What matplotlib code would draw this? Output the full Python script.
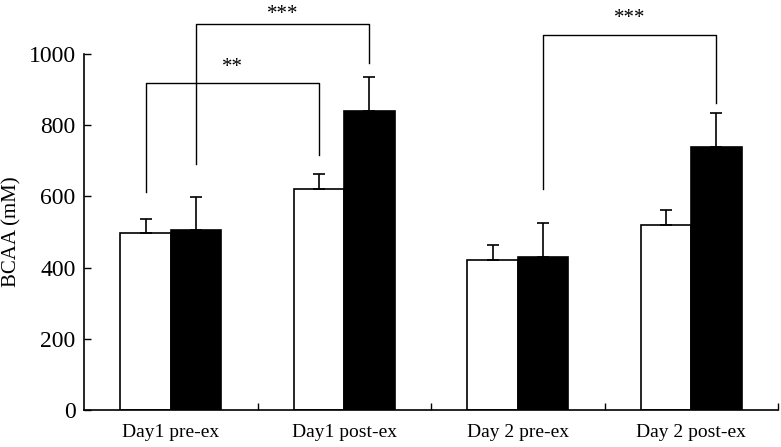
import numpy as np
import matplotlib.pyplot as plt

plt.rcParams['font.family'] = ['Liberation Serif', 'DejaVu Serif']

categories = ['Day1 pre-ex', 'Day1 post-ex', 'Day 2 pre-ex', 'Day 2 post-ex']
white_vals = [497, 621, 421, 520]
white_err = [40, 42, 42, 42]
black_vals = [506, 840, 430, 739]
black_err = [93, 95, 96, 95]

# significance brackets: (x_left, y_left_bottom, x_right, y_right_bottom, y_top, label, label_y)
brackets = [
    (-0.145, 612, 0.855, 716, 918, '**', 962),
    (0.145, 691, 1.145, 975, 1084, '***', 1112),
    (2.145, 621, 3.145, 862, 1053, '***', 1100),
]

fig = plt.figure(figsize=(7.81, 4.47), dpi=100)
ax = fig.add_axes([0.1076, 0.0828, 0.8886, 0.7964])

x = np.arange(len(categories))
w = 0.29
ax.bar(x - w/2, white_vals, w, color='white', edgecolor='black', linewidth=1.2,
       yerr=[[0]*4, white_err], error_kw=dict(ecolor='black', elinewidth=1.2, capsize=4, capthick=1.2))
ax.bar(x + w/2, black_vals, w, color='black', edgecolor='black', linewidth=1.2,
       yerr=[[0]*4, black_err], error_kw=dict(ecolor='black', elinewidth=1.2, capsize=4, capthick=1.2))

for xl, yl, xr, yr, yt, lab, ly in brackets:
    ax.plot([xl, xl, xr, xr], [yl, yt, yt, yr], color='black', lw=1, clip_on=False)
    ax.text((xl + xr)/2, ly, lab, ha='center', va='center', fontsize=15, clip_on=False)

ax.set_xlim(-0.5, 3.5)
ax.set_ylim(0, 1000)
ax.set_yticks(range(0, 1001, 200))
ax.set_xticks(x)
ax.set_xticklabels(categories)
ax.set_xticks([0.5, 1.5, 2.5, 3.5], minor=True)
ax.tick_params(axis='x', which='major', length=0, pad=10, labelsize=14)
ax.tick_params(axis='x', which='minor', direction='in', length=5, width=1)
ax.tick_params(axis='y', direction='in', length=5, width=1, labelsize=17, pad=6)
ax.set_ylabel('BCAA (mM)', fontsize=15)
ax.yaxis.set_label_coords(-0.09, 0.5)

for s in ['top', 'right']:
    ax.spines[s].set_visible(False)
for s in ['left', 'bottom']:
    ax.spines[s].set_linewidth(1.2)

fig.savefig('out.png', dpi=100)
